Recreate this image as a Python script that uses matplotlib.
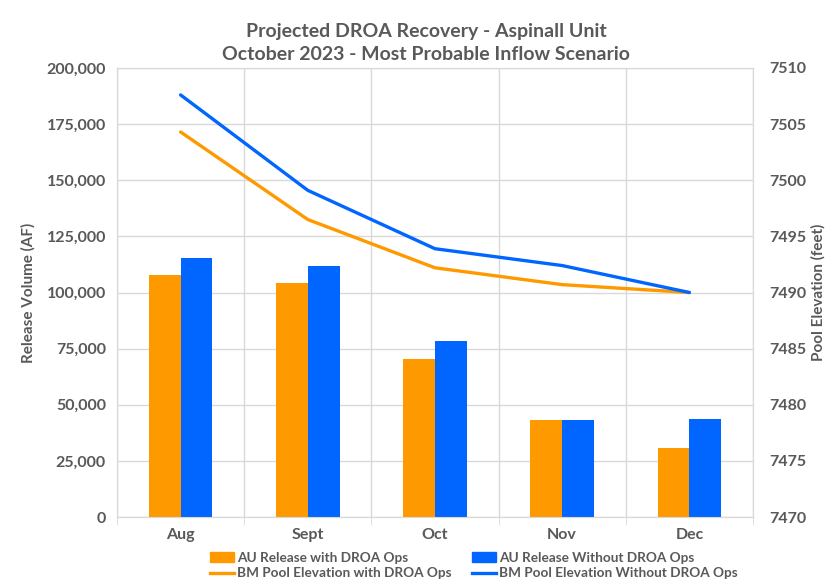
import numpy as np
import matplotlib
matplotlib.use("Agg")
import matplotlib.pyplot as plt
from matplotlib.ticker import FuncFormatter
from matplotlib.patches import Patch
from matplotlib.lines import Line2D

months = ["Aug", "Sept", "Oct", "Nov", "Dec"]
release_with = [108000, 104300, 70400, 43200, 30600]
release_without = [115200, 111700, 78600, 43200, 43500]
elev_with = [7504.3, 7496.5, 7492.2, 7490.7, 7490.0]
elev_without = [7507.6, 7499.1, 7493.9, 7492.4, 7490.0]

orange = "#FF9900"
blue = "#0066FF"
grey_text = "#595959"
grid_col = "#D9D9D9"

plt.rcParams["font.family"] = ["Lato", "DejaVu Sans"]
plt.rcParams["font.weight"] = "bold"

fig = plt.figure(figsize=(8.28, 5.85), dpi=100)
ax = fig.add_axes([0.1413, 0.1162, 0.7681, 0.7676])
ax2 = ax.twinx()

x = np.arange(len(months))
w = 0.25
ax.bar(x - w / 2, release_with, w, color=orange, zorder=3)
ax.bar(x + w / 2, release_without, w, color=blue, zorder=3)

ax2.plot(x, elev_with, color=orange, lw=2.4, solid_capstyle="round")
ax2.plot(x, elev_without, color=blue, lw=2.4, solid_capstyle="round")

ax.set_xlim(-0.5, len(months) - 0.5)
ax.set_ylim(0, 200000)
ax.set_yticks(np.arange(0, 200001, 25000))
ax.yaxis.set_major_formatter(FuncFormatter(lambda v, p: f"{int(v):,}"))
ax2.set_ylim(7470, 7510)
ax2.set_yticks(np.arange(7470, 7511, 5))

ax.set_xticks(x)
ax.set_xticklabels(months)
ax.set_xticks(np.arange(-0.5, len(months), 1), minor=True)
ax.grid(True, axis="y", color=grid_col, lw=1, zorder=0)
ax.grid(True, axis="x", which="minor", color=grid_col, lw=1, zorder=0)
ax.tick_params(axis="x", which="major", length=0, pad=8)
ax.tick_params(axis="x", which="minor", length=6, color=grid_col)
ax.tick_params(axis="y", length=0, pad=8)
ax2.tick_params(axis="y", length=0, pad=12)

for a in (ax, ax2):
    for s in a.spines.values():
        s.set_color(grid_col)
    a.tick_params(labelsize=11.5, labelcolor=grey_text)

ax.set_ylabel("Release Volume (AF)", fontsize=11, color=grey_text, fontweight="bold", labelpad=8)
ax2.set_ylabel("Pool Elevation (feet)", fontsize=11, color=grey_text, fontweight="bold", labelpad=3)

fig.text(0.515, 0.947, "Projected DROA Recovery - Aspinall Unit", ha="center", va="center",
         fontsize=14, color=grey_text, fontweight="bold")
fig.text(0.515, 0.906, "October 2023 - Most Probable Inflow Scenario", ha="center", va="center",
         fontsize=14, color=grey_text, fontweight="bold")

handles = [
    Patch(color=orange, label="AU Release with DROA Ops"),
    Line2D([], [], color=orange, lw=2.4, label="BM Pool Elevation with DROA Ops"),
    Patch(color=blue, label="AU Release Without DROA Ops"),
    Line2D([], [], color=blue, lw=2.4, label="BM Pool Elevation Without DROA Ops"),
]
leg = fig.legend(handles=handles, ncol=2, loc="center", bbox_to_anchor=(0.572, 0.033),
                 frameon=False, fontsize=9.8, handlelength=1.8, handletextpad=0.2,
                 columnspacing=1.5, labelspacing=0.25, borderpad=0)
for t in leg.get_texts():
    t.set_color(grey_text)

fig.savefig("out.png", dpi=100)
